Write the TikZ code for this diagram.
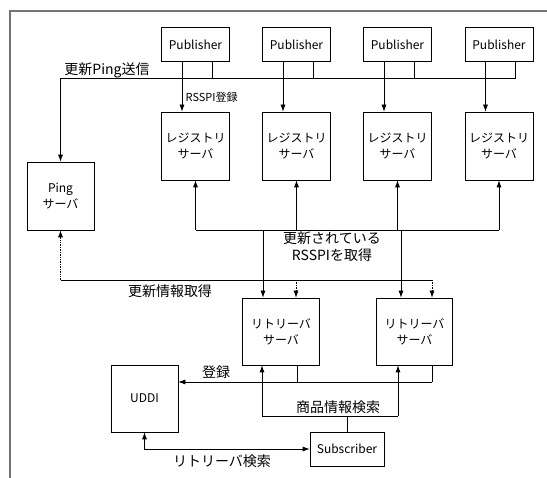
\documentclass[tikz,border=0pt]{standalone}
\usepackage{fontspec}
\setmainfont{Noto Sans CJK JP}
\usetikzlibrary{arrows.meta}
\colorlet{frameGray}{black!55}

\begin{document}
\begin{tikzpicture}[x=1pt, y=-1pt, >={Latex[length=7pt,width=5pt]}, line width=0.7pt,
    box/.style={draw, minimum width=68pt, minimum height=68pt, inner sep=0pt, align=center, font=\fontsize{12}{16}\selectfont},
    pubbox/.style={box, minimum height=34pt},
    lbl/.style={align=center, font=\fontsize{14}{17}\selectfont}]
    \useasboundingbox (0,0) rectangle (547,478);
    \draw[frameGray, line width=1.5pt] (10,478) -- (10,11) -- (547,11);

    \foreach \n/\x in {1/195.5,2/296.5,3/397.5,4/499}{
        \node[pubbox] (pub\n) at (\x,44.5) {Publisher};
        \node[box] (reg\n) at (\x,146) {レジストリ\\サーバ};
    }
    \node[box, minimum width=67pt] (ping) at (60.5,196) {Ping\\サーバ};
    \node[box, minimum width=77pt, minimum height=67pt] (ret1) at (281,331.5) {リトリーバ\\サーバ};
    \node[box, minimum width=76pt, minimum height=67pt] (ret2) at (414.5,331.5) {リトリーバ\\サーバ};
    \node[box, minimum width=67pt, minimum height=67pt] (uddi) at (144.5,398.5) {UDDI};
    \node[pubbox, minimum width=74pt] (sub) at (347,449) {Subscriber};

    \coordinate (pingbus) at (60.5,78);
    \foreach \n in {1,...,4}{
        \draw[->] ([xshift=-13.5pt]pub\n.south) -- ([xshift=-13.5pt]reg\n.north);
        \draw ([xshift=16.5pt]pub\n.south) |- (pingbus);
    }
    \draw[->] (pingbus) -- (ping);

    \coordinate (regbus) at (0,230);
    \foreach \n in {1,...,4}
        \draw[->] (reg\n.south |- regbus) -- (reg\n);
    \draw (reg1.south |- regbus) -- (reg4.south |- regbus);
    \coordinate (get1) at (263,230);
    \coordinate (get2) at (401,230);
    \draw[->] (get1) -- (get1 |- ret1.north);
    \draw[->] (get2) -- (get2 |- ret2.north);

    \coordinate (infobus) at (60.5,280);
    \coordinate (info1) at (296,280);
    \coordinate (info2) at (432,280);
    \draw[->, densely dotted] (infobus) -- (ping);
    \draw (infobus) -- (info2);
    \draw[->, densely dotted] (info1) -- (info1 |- ret1.north);
    \draw[->, densely dotted] (info2) -- (info2 |- ret2.north);

    \coordinate (put1) at (297,382);
    \coordinate (put2) at (432,382);
    \draw (put1) -- (put1 |- ret1.south);
    \draw (put2) -- (put2 |- ret2.south);
    \draw[->] (put2) -- (put2 -| uddi.east);

    \coordinate (find1) at (262,416);
    \coordinate (find2) at (398,416);
    \draw[->] (find1) -- (find1 |- ret1.south);
    \draw[->] (find2) -- (find2 |- ret2.south);
    \draw (find1) -- (find2);
    \draw (sub) -- (sub.north |- find1);
    \draw[<->] (uddi) |- (sub);

    \node[lbl] (pingsend) at (107,70) {更新Ping送信};
    \node[anchor=west, font=\fontsize{11}{13}\selectfont] (rsspireg) at (182,97) {RSSPI登録};
    \node[lbl] (rsspiget) at (332,246.5) {更新されている\\RSSPIを取得};
    \node[lbl] (infoget) at (170,291) {更新情報取得};
    \node[lbl] (regist) at (216,372) {登録};
    \node[lbl] (goodsfind) at (338,407) {商品情報検索};
    \node[lbl] (retfind) at (222,461) {リトリーバ検索};
\end{tikzpicture}
\end{document}
